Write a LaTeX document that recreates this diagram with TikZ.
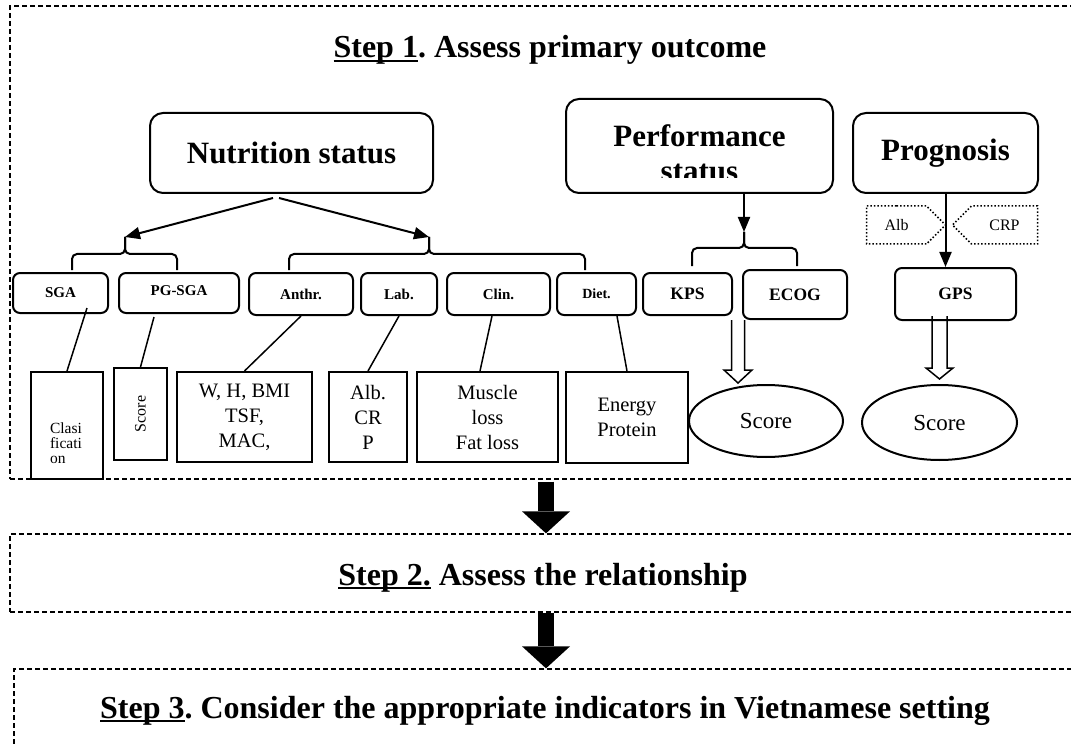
\documentclass[tikz,border=0pt]{standalone}
\usepackage{fontspec}
\setmainfont{Liberation Serif}
\usetikzlibrary{arrows.meta,shapes.geometric,shapes.symbols}
\frenchspacing

\newcommand{\stepline}[1]{\setbox0\hbox{#1}\rlap{\rule[-4pt]{\wd0}{1.8pt}}\box0\relax}

\begin{document}
\begin{tikzpicture}[x=1pt,y=-1pt]
        \useasboundingbox (0,0) rectangle (1071,746);

        \begin{scope}[every node/.style={draw,line width=1.3pt,dash pattern=on 5pt off 3pt,inner sep=0pt}]
            \node[minimum width=1080, minimum height=473] (23) at (550,242.5) {};
            \node[minimum width=1080, minimum height=78] (24) at (550,573) {};
            \node[minimum width=1076, minimum height=90] (25) at (552,714) {};
        \end{scope}

        \begin{scope}[every node/.style={anchor=base,font=\bfseries\fontsize{32}{38}\selectfont}]
            \node (26) at (550,58) {\stepline{Step 1}. Assess primary outcome};
            \node (27) at (543,585) {\stepline{Step 2.} Assess the relationship};
            \node (28) at (545,718) {\stepline{Step 3}. Consider the appropriate indicators in Vietnamese setting};
        \end{scope}

        \begin{scope}[every node/.style={draw,rounded corners=13pt,line width=2pt,inner sep=0pt,font=\bfseries\fontsize{31}{35}\selectfont}]
            \node[minimum width=283, minimum height=80] (1) at (291.5,153) {Nutrition status};
            \node[minimum width=267, minimum height=94] (2) at (699.5,146) {};
            \node[minimum width=185, minimum height=80] (3) at (945.5,153) {Prognosis};
        \end{scope}
        \begin{scope}
            \clip (566,99) rectangle (833,178);
            \node[align=center,font=\bfseries\fontsize{31}{35}\selectfont] (29) at (699.5,153) {Performance\\status};
        \end{scope}

        \begin{scope}[every node/.style={draw,rounded corners=7pt,line width=2pt,inner sep=0pt,font=\bfseries\fontsize{15}{18}\selectfont}]
            \node[minimum width=95, minimum height=40] (4) at (60.5,293) {SGA};
            \node[minimum width=120, minimum height=40] (5) at (179,293) {\raisebox{5pt}{PG-SGA}};
            \node[minimum width=104, minimum height=42] (6) at (301,294) {Anthr.};
            \node[minimum width=76, minimum height=42] (7) at (399,294) {Lab.};
            \node[minimum width=103, minimum height=42] (8) at (498.5,294) {Clin.};
            \node[minimum width=79, minimum height=42, font=\bfseries\fontsize{14}{17}\selectfont] (9) at (596.5,294) {Diet.};
            \node[minimum width=89, minimum height=42, font=\bfseries\fontsize{17.5}{21}\selectfont] (10) at (687.5,294) {KPS};
            \node[minimum width=104, minimum height=49, font=\bfseries\fontsize{17.5}{21}\selectfont] (11) at (795,294.5) {ECOG};
            \node[minimum width=121, minimum height=52, font=\bfseries\fontsize{17.5}{21}\selectfont] (12) at (955.5,294) {GPS};
        \end{scope}

        \begin{scope}[every node/.style={draw,line width=2pt,inner sep=0pt,align=center,font=\fontsize{20.5}{25}\selectfont}]
            \node[minimum width=72, minimum height=107] (13) at (67,425.5) {};
            \node[minimum width=53, minimum height=92, font=\fontsize{16}{19}\selectfont] (14) at (140.5,414) {\rotatebox{90}{Score}};
            \node[minimum width=135, minimum height=90] (15) at (244.5,417) {W, H, BMI\\TSF,\\MAC,};
            \node[minimum width=78, minimum height=90] (16) at (368,417) {Alb.\\CR\\P};
            \node[minimum width=141, minimum height=90] (17) at (487.5,417) {Muscle\\loss\\Fat loss};
            \node[minimum width=122, minimum height=91] (18) at (627,417.5) {Energy\\Protein};
            \node[ellipse, minimum width=154, minimum height=72, font=\fontsize{23}{27}\selectfont] (19) at (766,421) {Score};
            \node[ellipse, minimum width=155, minimum height=75, font=\fontsize{23}{27}\selectfont] (20) at (939.5,422.5) {Score};
        \end{scope}
        \node[align=left,font=\fontsize{15.5}{15}\selectfont] (30) at (66,443) {Clasi\\ficati\\on};

        \begin{scope}[every node/.style={draw,dotted,line width=1.5pt,signal,inner sep=0pt,font=\fontsize{16}{19}\selectfont}]
            \node[signal to=east, minimum width=79, minimum height=38] (21) at (896.5,225) {Alb};
            \node[signal to=west, minimum width=85, minimum height=38] (22) at (1004.5,225) {CRP};
        \end{scope}

        \coordinate (31) at (125,237);
        \coordinate (32) at (429,237);
        \coordinate (33) at (744,232);
        \coordinate (34) at (20.north |- 12.south);

        \begin{scope}[line width=2pt, rounded corners=5pt]
            \draw ([xshift=11.5pt,yshift=2pt]4.north) |- ([yshift=-17pt]31) -- (31);
            \draw ([xshift=-2pt,yshift=2pt]5.north) |- ([yshift=-17pt]31) -- (31);
            \draw ([xshift=-12pt,yshift=2pt]6.north) |- ([yshift=-17pt]32) -- (32);
            \draw ([xshift=-11.5pt,yshift=2pt]9.north) |- ([yshift=-17pt]32) -- (32);
            \draw ([xshift=4.5pt,yshift=6pt]10.north) |- ([yshift=-16pt]33) -- (33);
            \draw ([xshift=2pt,yshift=3pt]11.north) |- ([yshift=-16pt]33) -- (33);
        \end{scope}

        \begin{scope}[every edge/.style={draw,line width=2pt}, >={Triangle[length=15pt,width=12pt]}]
            \path [->] ([xshift=-18.5pt,yshift=-4pt]1.south) edge (31);
            \path [->] ([xshift=-12.5pt,yshift=-4pt]1.south) edge (32);
            \path [->] (33 |- 2.south) edge (33);
            \path [->] (3.south) edge (3.south |- 12.north);
        \end{scope}

        \begin{scope}[every edge/.style={draw,line width=1.5pt}]
            \path [-] ([xshift=26.5pt,yshift=6pt]4.south) edge (13.north);
            \path [-] ([xshift=-25pt,yshift=-3pt]5.south) edge (14.north);
            \path [-] (6.south) edge (15.north);
            \path [-] (7.south) edge (16.north);
            \path [-] ([xshift=-6.5pt]8.south) edge ([xshift=-7.5pt]17.north);
            \path [-] ([xshift=20.5pt]9.south) edge (18.north);
        \end{scope}

        \begin{scope}[line width=1.5pt]
            \draw ([xshift=-4pt]11.south west) ++(-6.5,0) -- ++(0,50) -- ++(-7.5,0) -- ++(14,13) -- ++(14,-13) -- ++(-7.5,0) -- ++(0,-50);
            \draw ([yshift=5pt]34) ++(-7.5,0) -- ++(0,52) -- ++(-6,0) -- ++(13.5,11) -- ++(13.5,-11) -- ++(-6,0) -- ++(0,-52);
        \end{scope}

        \begin{scope}[line width=16pt, -{Triangle[length=22pt,width=48pt,line width=0pt]}]
            \draw ([xshift=-4pt,yshift=-2pt]23.south) -- ([xshift=-4pt]23.south |- 24.north);
            \draw ([xshift=-4pt]24.south) -- ([xshift=-4pt]24.south |- 25.north);
        \end{scope}
    \end{tikzpicture}
\end{document}
